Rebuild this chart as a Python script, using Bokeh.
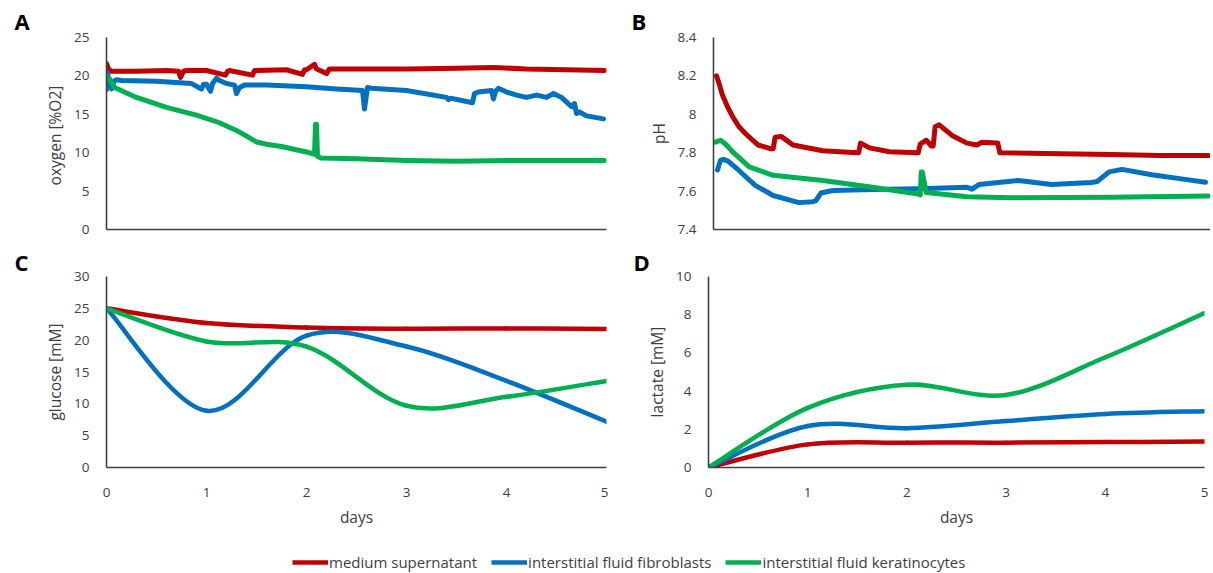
from bokeh.plotting import figure
from bokeh.models import Title, Legend, LegendItem, FixedTicker, Range1d
from bokeh.layouts import column, row
from bokeh.embed import file_html
from bokeh.resources import INLINE

# ---------------- data ----------------
series_names = ["medium supernatant", "interstitial fluid fibroblasts",
                "interstitial fluid keratinocytes"]
RED, BLUE, GREEN = "#C00000", "#0070C0", "#00B050"
colors = [RED, BLUE, GREEN]
panel_letters = ["A", "B", "C", "D"]

# Panel A: oxygen [%O2] (continuous sensor trace)
oxy_red_t = [0, 0.02, 0.05, 0.3, 0.6, 0.72, 0.74, 0.77, 0.8, 1.0, 1.19, 1.21, 1.23,
             1.46, 1.48, 1.5, 1.8, 1.96, 1.98, 2.0, 2.08, 2.1, 2.12, 2.2, 2.23,
             2.26, 2.5, 3.0, 3.5, 3.87, 4.2, 4.6, 4.98]
oxy_red_v = [21.6, 20.9, 20.6, 20.6, 20.7, 20.6, 19.8, 20.6, 20.7, 20.7, 20.1, 20.6,
             20.7, 20.1, 20.7, 20.7, 20.8, 20.2, 20.8, 20.8, 21.5, 20.9, 20.8, 20.3,
             20.9, 20.9, 20.9, 20.9, 21.0, 21.1, 20.9, 20.8, 20.7]
oxy_blue_t = [0, 0.01, 0.03, 0.05, 0.08, 0.1, 0.15, 0.5, 0.85, 0.95, 0.97, 1.0, 1.04,
              1.06, 1.1, 1.13, 1.2, 1.28, 1.3, 1.33, 1.38, 1.6, 2.0, 2.3, 2.56, 2.58,
              2.61, 2.65, 3.0, 3.4, 3.42, 3.44, 3.66, 3.68, 3.72, 3.85, 3.87, 3.89,
              3.92, 4.0, 4.1, 4.2, 4.3, 4.4, 4.47, 4.55, 4.65, 4.68, 4.7, 4.73, 4.8,
              4.97]
oxy_blue_v = [18.2, 20.4, 19.0, 18.3, 19.4, 19.5, 19.4, 19.3, 19.0, 18.3, 18.9, 18.9,
              18.0, 19.0, 19.7, 19.4, 19.0, 18.8, 17.7, 18.5, 18.8, 18.8, 18.6, 18.3,
              18.1, 15.7, 18.5, 18.4, 18.1, 17.2, 16.9, 17.1, 16.5, 17.7, 17.9, 18.1,
              17.0, 18.0, 18.4, 17.9, 17.5, 17.2, 17.5, 17.2, 17.7, 17.2, 16.0, 16.4,
              15.1, 15.3, 14.8, 14.4]
oxy_green_t = [0, 0.03, 0.08, 0.3, 0.6, 0.9, 1.13, 1.3, 1.5, 1.6, 1.75, 2.0, 2.08,
               2.09, 2.1, 2.11, 2.15, 2.5, 3.0, 3.5, 4.0, 4.5, 4.98]
oxy_green_v = [20.0, 19.6, 18.5, 17.2, 15.9, 14.9, 13.9, 12.9, 11.4, 11.1, 10.8, 10.1,
               9.8, 13.7, 13.7, 9.5, 9.3, 9.2, 9.0, 8.9, 9.0, 9.0, 9.0]

# Panel B: pH (continuous sensor trace)
ph_red_t = [0.03, 0.05, 0.09, 0.14, 0.19, 0.25, 0.32, 0.45, 0.58, 0.6, 0.62, 0.68,
            0.8, 1.1, 1.45, 1.46, 1.48, 1.57, 1.77, 2.05, 2.06, 2.08, 2.14, 2.19,
            2.21, 2.23, 2.27, 2.4, 2.55, 2.65, 2.7, 2.85, 2.86, 2.88, 3.5, 4.0, 4.5,
            4.98]
ph_red_v = [8.2, 8.17, 8.1, 8.04, 7.99, 7.94, 7.90, 7.84, 7.82, 7.82, 7.88, 7.885,
            7.84, 7.81, 7.80, 7.80, 7.85, 7.825, 7.805, 7.80, 7.80, 7.845, 7.865,
            7.835, 7.835, 7.935, 7.945, 7.89, 7.85, 7.84, 7.855, 7.85, 7.85, 7.80,
            7.795, 7.79, 7.785, 7.785]
ph_blue_t = [0.04, 0.07, 0.1, 0.15, 0.25, 0.42, 0.6, 0.86, 1.0, 1.03, 1.08, 1.2, 1.6,
             2.07, 2.55, 2.6, 2.67, 3.07, 3.4, 3.8, 3.86, 3.98, 4.11, 4.41, 4.69, 4.95]
ph_blue_v = [7.71, 7.76, 7.765, 7.755, 7.71, 7.63, 7.577, 7.54, 7.545, 7.55, 7.59,
             7.603, 7.608, 7.612, 7.62, 7.61, 7.634, 7.655, 7.634, 7.645, 7.65, 7.70,
             7.713, 7.685, 7.665, 7.646]
ph_green_t = [0.02, 0.07, 0.12, 0.19, 0.36, 0.6, 1.1, 1.6, 2.06, 2.08, 2.09, 2.1,
              2.14, 2.55, 3.0, 4.0, 4.98]
ph_green_v = [7.855, 7.865, 7.845, 7.806, 7.726, 7.682, 7.655, 7.62, 7.585, 7.58,
              7.70, 7.70, 7.593, 7.57, 7.565, 7.568, 7.575]

# Panels C, D: daily samples (smoothed lines)
days = [0, 1, 2, 3, 4, 5]
glucose_red = [25.0, 22.7, 22.0, 21.8, 21.85, 21.75]
glucose_blue = [25.0, 8.9, 20.7, 19.0, 13.6, 7.2]
glucose_green = [25.0, 19.8, 19.0, 9.7, 11.1, 13.6]
lactate_red = [0.0, 1.21, 1.3, 1.3, 1.33, 1.36]
lactate_blue = [0.0, 2.17, 2.06, 2.43, 2.8, 2.95]
lactate_green = [0.0, 3.12, 4.33, 3.8, 5.77, 8.09]

# tick labels
oxy_ticks = [0, 5, 10, 15, 20, 25]
ph_ticks = [7.4, 7.6, 7.8, 8.0, 8.2, 8.4]
ph_tick_labels = ["7.4", "7.6", "7.8", "8", "8.2", "8.4"]
glucose_ticks = [0, 5, 10, 15, 20, 25, 30]
lactate_ticks = [0, 2, 4, 6, 8, 10]
day_ticks = [0, 1, 2, 3, 4, 5]

FONT = "Open Sans"
TXT = "#404040"
AXC = "#404040"


def make_fig(width, height, y0, y1, bl, br, bt, bb, letter, offset, standoff):
    p = figure(width=width, height=height, output_backend="svg", toolbar_location=None,
               x_range=Range1d(0, 5), y_range=Range1d(y0, y1),
               title=Title(text=letter, align="left", offset=offset, standoff=standoff,
                           text_font=FONT, text_font_size="22px",
                           text_font_style="bold", text_color="black"))
    p.min_border_left = bl
    p.min_border_right = br
    p.min_border_top = bt
    p.min_border_bottom = bb
    p.xgrid.visible = False
    p.ygrid.visible = False
    p.outline_line_color = None
    p.background_fill_color = "white"
    p.border_fill_color = "white"
    for ax in (p.xaxis[0], p.yaxis[0]):
        ax.axis_line_color = AXC
        ax.axis_line_width = 1.6
        ax.major_tick_line_color = None
        ax.minor_tick_line_color = None
        ax.major_tick_in = 0
        ax.major_tick_out = 0
        ax.minor_tick_in = 0
        ax.minor_tick_out = 0
        ax.major_label_text_font = FONT
        ax.major_label_text_font_size = "13.5px"
        ax.major_label_text_color = TXT
        ax.axis_label_text_font = FONT
        ax.axis_label_text_font_size = "15.5px"
        ax.axis_label_text_font_style = "normal"
        ax.axis_label_text_color = TXT
    p.yaxis[0].major_label_standoff = 17
    p.yaxis[0].axis_label_standoff = 5
    return p


def smooth(p, xs, ys, color):
    n = len(xs)
    seg = dict(x0=[], y0=[], x1=[], y1=[], cx0=[], cy0=[], cx1=[], cy1=[])
    for i in range(n - 1):
        xp, yp = (xs[i - 1], ys[i - 1]) if i > 0 else (xs[i], ys[i])
        xn, yn = (xs[i + 2], ys[i + 2]) if i + 2 < n else (xs[i + 1], ys[i + 1])
        seg["x0"].append(xs[i]); seg["y0"].append(ys[i])
        seg["x1"].append(xs[i + 1]); seg["y1"].append(ys[i + 1])
        seg["cx0"].append(xs[i] + (xs[i + 1] - xp) / 6)
        seg["cy0"].append(ys[i] + (ys[i + 1] - yp) / 6)
        seg["cx1"].append(xs[i + 1] - (xn - xs[i]) / 6)
        seg["cy1"].append(ys[i + 1] - (yn - ys[i]) / 6)
    p.bezier(x0="x0", y0="y0", x1="x1", y1="y1", cx0="cx0", cy0="cy0",
             cx1="cx1", cy1="cy1", source=seg, line_color=color, line_width=4.5,
             line_cap="round")


# Row 1
pA = make_fig(608, 241, 0, 25, 106, 2, 37, 12, panel_letters[0], -92, 3)
pB = make_fig(602, 241, 7.4, 8.4, 105, 0, 37, 12, panel_letters[1], -82, 3)
for p in (pA, pB):
    p.xaxis[0].ticker = FixedTicker(ticks=[])
    p.xaxis[0].major_label_standoff = 0
pA.yaxis[0].ticker = FixedTicker(ticks=oxy_ticks)
pA.yaxis[0].axis_label = "oxygen  [%O2]"
pB.yaxis[0].ticker = FixedTicker(ticks=ph_ticks)
pB.yaxis[0].major_label_overrides = {t: l for t, l in zip(ph_ticks, ph_tick_labels)}
pB.yaxis[0].axis_label = "pH"

for (t, v), c in zip([(oxy_red_t, oxy_red_v), (oxy_blue_t, oxy_blue_v),
                      (oxy_green_t, oxy_green_v)], colors):
    pA.line(t, v, line_color=c, line_width=5, line_join="round", line_cap="round")
for (t, v), c in zip([(ph_red_t, ph_red_v), (ph_blue_t, ph_blue_v),
                      (ph_green_t, ph_green_v)], colors):
    pB.line(t, v, line_color=c, line_width=5, line_join="round", line_cap="round")

# Row 2
pC = make_fig(608, 289, 0, 30, 106, 2, 35, 62, panel_letters[2], -92, 0)
pD = make_fig(602, 289, 0, 10, 100, 6, 35, 62, panel_letters[3], -75, 0)
for p in (pC, pD):
    p.xaxis[0].ticker = FixedTicker(ticks=day_ticks)
    p.xaxis[0].axis_label = "days"
    p.xaxis[0].major_label_standoff = 20
    p.xaxis[0].axis_label_standoff = 6
pC.yaxis[0].ticker = FixedTicker(ticks=glucose_ticks)
pC.yaxis[0].axis_label = "glucose [mM]"
pD.yaxis[0].ticker = FixedTicker(ticks=lactate_ticks)
pD.yaxis[0].axis_label = "lactate [mM]"

for ys, c in zip([glucose_red, glucose_blue, glucose_green], colors):
    smooth(pC, days, ys, c)
for ys, c in zip([lactate_red, lactate_blue, lactate_green], colors):
    smooth(pD, days, ys, c)

# Legend strip
pL = figure(width=1210, height=43, output_backend="svg", toolbar_location=None,
            x_range=Range1d(0, 1), y_range=Range1d(0, 1), min_border=0)
pL.axis.visible = False
pL.xgrid.visible = False
pL.ygrid.visible = False
pL.outline_line_color = None
rs = [pL.line([2, 3], [2, 3], line_color=c, line_width=4.5) for c in colors]
leg = Legend(items=[LegendItem(label=n, renderers=[r]) for n, r in zip(series_names, rs)],
             orientation="horizontal", location=(292, 1), glyph_width=36,
             glyph_height=14, label_standoff=1, spacing=14, padding=0, margin=0,
             border_line_color=None, background_fill_alpha=0,
             label_text_font=FONT, label_text_font_size="15px",
             label_text_color=TXT)
pL.add_layout(leg)

layout = column(row(pA, pB), row(pC, pD), pL)
open("out.html", "w").write(file_html(layout, INLINE))
